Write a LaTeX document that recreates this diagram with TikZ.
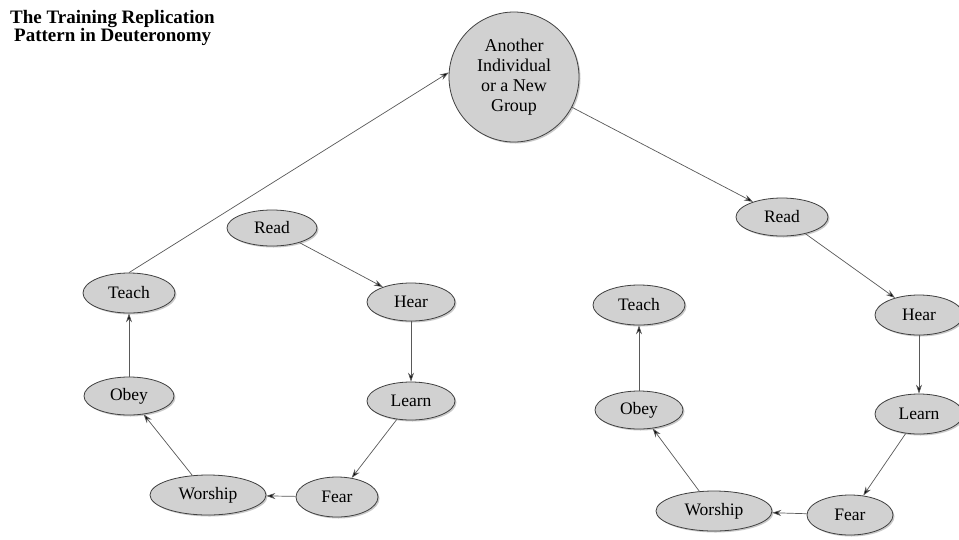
\documentclass[tikz,border=0pt]{standalone}
\usepackage{fontspec}
\setmainfont{Liberation Serif}
\usetikzlibrary{shapes.geometric,arrows.meta,shadows}
\begin{document}
\begin{tikzpicture}[x=1pt,y=-1pt,
  box/.style={ellipse,draw=black!75,line width=0.8pt,fill=black!18,inner sep=0pt,
    font=\fontsize{17.5}{19}\selectfont,drop shadow={shadow xshift=1.5pt,shadow yshift=-1.5pt,fill=black!35,opacity=0.6}},
  conn/.style={draw=black!65,line width=0.7pt,-{Stealth[length=9pt,width=6pt,fill=black]}}]
\useasboundingbox[fill=white] (0,0) rectangle (959,539);
\node[font=\bfseries\fontsize{19}{17}\selectfont,align=left,anchor=north west,inner sep=0pt] (title) at (10,10) {The Training Replication\\\hspace*{4pt}Pattern in Deuteronomy};
\node[box,circle,minimum size=130pt,align=center,font=\fontsize{18}{20}\selectfont] (grp) at (514,77) {Another\\Individual\\or a New\\Group};
% left group
\node[box,minimum width=90pt,minimum height=36pt] (lread) at (272,228) {Read};
\node[box,minimum width=88pt,minimum height=38pt] (lhear) at (411,302) {Hear};
\node[box,minimum width=88pt,minimum height=38pt] (llearn) at (411,401) {Learn};
\node[box,minimum width=82pt,minimum height=40pt] (lfear) at (337,497) {Fear};
\node[box,minimum width=116pt,minimum height=40pt] (lwor) at (208,495) {Worship};
\node[box,minimum width=90pt,minimum height=38pt] (lobey) at (129,396) {Obey};
\node[box,minimum width=92pt,minimum height=40pt] (lteach) at (129,293) {Teach};
% right group
\node[box,minimum width=92pt,minimum height=38pt] (rread) at (782,217) {Read};
\node[box,minimum width=88pt,minimum height=40pt] (rhear) at (919,315) {Hear};
\node[box,minimum width=88pt,minimum height=40pt] (rlearn) at (919,414) {Learn};
\node[box,minimum width=86pt,minimum height=40pt] (rfear) at (850,515) {Fear};
\node[box,minimum width=116pt,minimum height=40pt] (rwor) at (714,511) {Worship};
\node[box,minimum width=88pt,minimum height=38pt] (robey) at (639,410) {Obey};
\node[box,minimum width=92pt,minimum height=40pt] (rteach) at (639,305) {Teach};
% connectors
\draw[conn] (lteach.north) -- (grp.176);
\draw[conn] (grp) -- (rread);
\draw[conn] (lread) -- (lhear);
\draw[conn] (lhear) -- (llearn);
\draw[conn] (llearn) -- (lfear);
\draw[conn] (lfear) -- (lwor);
\draw[conn] (lwor) -- (lobey);
\draw[conn] (lobey) -- (lteach);
\draw[conn] (rread) -- (rhear);
\draw[conn] (rhear) -- (rlearn);
\draw[conn] (rlearn) -- (rfear);
\draw[conn] (rfear) -- (rwor);
\draw[conn] (rwor) -- (robey);
\draw[conn] (robey) -- (rteach);
\end{tikzpicture}
\end{document}
